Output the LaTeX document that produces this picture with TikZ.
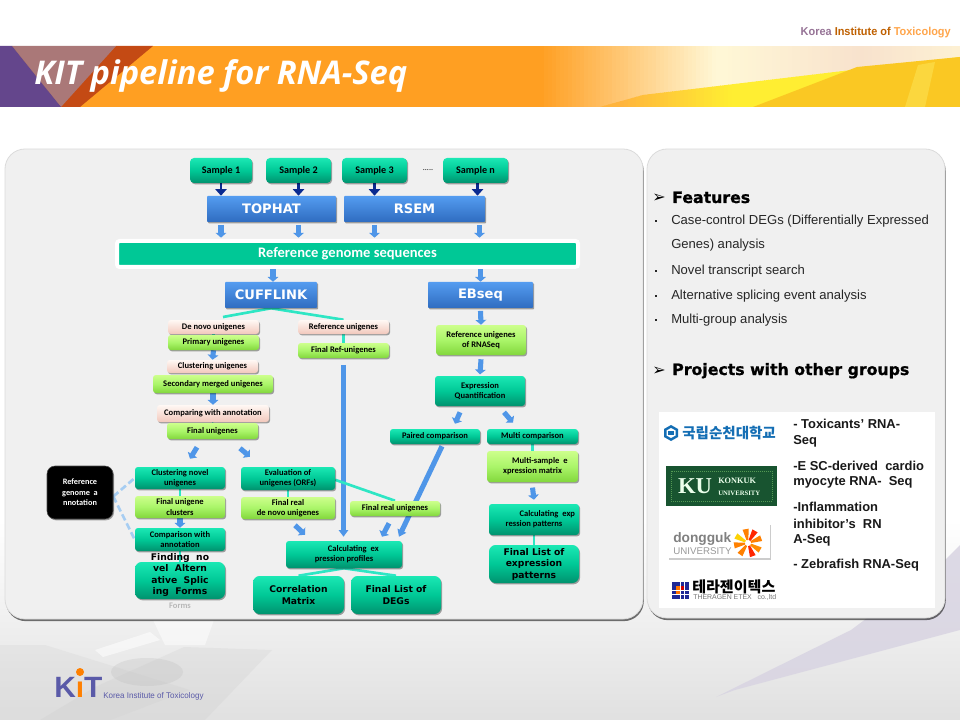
\documentclass[tikz,border=0pt]{standalone}
\usepackage{fontspec}
\setmainfont{Carlito}
\newfontfamily\djvb{DejaVu Sans}[BoldFont=* Bold]
\newfontfamily\djvh{DejaVu Sans Bold}[FakeBold=1]
\newfontfamily\libs{Liberation Sans}
\newfontfamily\serf{Liberation Serif}
\newfontfamily\krf{Noto Sans CJK KR}
\newfontfamily\opens{Open Sans}
\usetikzlibrary{arrows.meta,shadows,calc}
\pgfdeclarelayer{panelL}
\pgfdeclarelayer{conn}
\pgfsetlayers{panelL,conn,main}
\definecolor{tealA}{HTML}{1BE8B4}
\definecolor{tealB}{HTML}{00C896}
\definecolor{tealC}{HTML}{00926E}
\definecolor{bandT}{HTML}{00C896}
\definecolor{linkC}{HTML}{2EE6C4}
\definecolor{arrB}{HTML}{4F96E8}
\definecolor{arrD}{HTML}{0A2A90}
\definecolor{dashC}{HTML}{A6CDF2}
\definecolor{orng}{HTML}{FF9F22}
\definecolor{purp}{HTML}{5A5AA8}
\definecolor{grA}{RGB}{205,255,140}
\definecolor{grB}{RGB}{170,245,105}
\definecolor{grC}{RGB}{130,215,60}
\definecolor{pkA}{RGB}{255,248,244}
\definecolor{pkC}{RGB}{242,200,188}
\definecolor{blA}{RGB}{84,156,240}
\definecolor{blC}{RGB}{47,108,192}
\definecolor{ylA}{RGB}{255,238,50}
\definecolor{ylB}{RGB}{250,200,35}
\definecolor{ylC}{RGB}{252,226,80}
\definecolor{ylO}{RGB}{255,180,60}
\definecolor{crm}{RGB}{255,247,214}
\definecolor{pnk}{RGB}{248,226,205}
\definecolor{hdR}{RGB}{196,74,20}
\definecolor{hdT}{RGB}{170,120,120}
\definecolor{hdP}{RGB}{100,70,140}
\definecolor{scnu}{RGB}{20,110,180}
\definecolor{kugr}{RGB}{24,84,48}
\definecolor{thbl}{RGB}{30,40,150}
\definecolor{lilac}{RGB}{216,212,226}
\tikzset{
  x=0.75pt,y=-0.75pt,
  softshadow/.style={drop shadow={shadow xshift=0.8pt,shadow yshift=-1pt,opacity=0.35,fill=black}},
  basebox/.style={inner sep=0pt,align=center,softshadow,rounded corners=2.2pt,font=\bfseries\fontsize{6.4}{7.6}\selectfont,text=black},
  tealbox/.style={basebox,top color=tealA,bottom color=tealC,middle color=tealB},
  greenbox/.style={basebox,top color=grA,bottom color=grC,middle color=grB},
  pinkbox/.style={basebox,top color=pkA,bottom color=pkC},
  bluebox/.style={basebox,rounded corners=0.6pt,top color=blA,bottom color=blC,text=white,font=\djvb\bfseries\fontsize{9.8}{11}\selectfont},
  samplebox/.style={tealbox,rounded corners=3pt,font=\bfseries\fontsize{7.6}{9}\selectfont},
  finalbox/.style={tealbox,rounded corners=5pt,font=\djvb\bfseries\fontsize{6.9}{8.6}\selectfont},
  bandbox/.style={basebox,rounded corners=2pt,fill=bandT,draw=white,line width=3pt,text=white,font=\bfseries\fontsize{10.9}{12}\selectfont},
  blackbox/.style={basebox,rounded corners=6pt,fill=black,text=white,draw=black!70,line width=.4pt,font=\bfseries\fontsize{6.2}{7.8}\selectfont},
  darrow/.style={draw=arrD,line width=2.2pt,-{Triangle[width=8.5pt,length=5pt]}},
  barrow/.style={draw=arrB,line width=3.8pt,-{Triangle[width=8pt,length=3.6pt]}},
  longarrow/.style={draw=arrB,line width=3.8pt,-{Triangle[width=7pt,length=5pt]}},
  clink/.style={draw=linkC,line width=2pt},
  dashlink/.style={draw=dashC,line width=2pt,dash pattern=on 5pt off 2.5pt},
  panelbox/.style={fill=black!6,draw=black!14,line width=.6pt,rounded corners=15pt,drop shadow={shadow xshift=0.6pt,shadow yshift=-1.6pt,opacity=0.55,fill=black}},
  bodytext/.style={inner sep=0pt,anchor=base west,text=black!85,font=\libs\fontsize{9.8}{11}\selectfont},
  headtext/.style={inner sep=0pt,anchor=base west,text=black,font=\djvh\fontsize{11.8}{13}\selectfont},
  markhead/.style={inner sep=0pt,anchor=base west,text=black,font=\djvb\fontsize{12}{13}\selectfont},
  bulletdot/.style={inner sep=0pt,minimum size=2pt,fill=black!85,rectangle},
  tabletext/.style={inner sep=0pt,anchor=west,text=black!90,font=\libs\bfseries\fontsize{9.7}{11}\selectfont},
}
\newcommand{\bx}[7]{%
  \pgfmathsetmacro\bxw{(#4-#2)*0.75}\pgfmathsetmacro\bxh{(#5-#3)*0.75}%
  \node[#6,minimum width=\bxw pt,minimum height=\bxh pt] (#1) at ({(#2+#4)/2},{(#3+#5)/2}) {#7};}
\begin{document}
\begin{tikzpicture}
\useasboundingbox (0,0) rectangle (960,720);
% ---------- slide background
\begin{pgfonlayer}{panelL}
\fill[white] (0,0) rectangle (960,720);
\shade[top color=white,bottom color=black!12] (0,520) rectangle (960,720);
\fill[black!17,opacity=.3] (0,645) -- (45,645) -- (190,690) -- (110,720) -- (0,720) -- cycle;
\fill[black!22,opacity=.22] (184,647) -- (272,650) -- (205,720) -- (40,720) -- (95,687) -- cycle;
\fill[black!25,opacity=.3] (147,672) ellipse (36 and 14);
\fill[white,opacity=.5] (153,620) -- (214,620) -- (205,645) -- (165,645) -- cycle;
\fill[white,opacity=.55] (95,650) -- (150,632) -- (160,640) -- (103,657) -- cycle;
\fill[lilac,opacity=.85] (716,697) -- (851,630) -- (945,560) -- (960,545) -- (960,630) -- (735,690) -- cycle;
% ---------- header band
\fill[orng] (0,46) rectangle (541,107);
\foreach \sx in {540,544,...,716} {
  \pgfmathtruncatemacro\pc{100-min(100,max(0,(\sx-540)/1.75))}
  \fill[orng!\pc!crm] (\sx,46) rectangle (\sx+5,107);
}
\foreach \sx in {720,724,...,956} {
  \pgfmathtruncatemacro\pc{100-min(100,abs(\sx-860)/1.4)}
  \fill[pnk!\pc!crm] (\sx,46) rectangle (\sx+5,107);
}
\begin{scope}
\clip (600,107) -- (643,95) -- (960,57) -- (960,107) -- cycle;
\foreach \sx in {600,604,...,956} {
  \pgfmathtruncatemacro\pc{100-min(100,max(0,(\sx-620)/1.1))}
  \fill[ylO!\pc!ylA] (\sx,46) rectangle (\sx+5,107);
}
\end{scope}
\fill[ylB] (753,107) -- (857,67) -- (960,57) -- (960,107) -- cycle;
\fill[ylC,opacity=.6] (905,107) -- (918,65) -- (935,62) -- (925,107) -- cycle;
\fill[hdR] (116,46) -- (153,46) -- (80,107) -- (55,107) -- cycle;
\fill[hdT] (12,46) -- (116,46) -- (61,107) -- cycle;
\fill[hdP] (0,46) -- (12,46) -- (61,107) -- (0,107) -- cycle;
% ---------- panels
\draw[panelbox] (5,149) rectangle (643,619);
\draw[panelbox] (647,149) rectangle (945,618);
\fill[white] (659,412) rectangle (935,608);
\end{pgfonlayer}
% ---------- title and logos
\node[inner sep=0pt,anchor=base west,text=white,xscale=1.0,font=\opens\bfseries\itshape\fontsize{24.5}{28}\selectfont] (title) at (34,85) {KIT pipeline for RNA-Seq};
\node[inner sep=0pt,anchor=base east,xscale=.955,font=\libs\bfseries\fontsize{8.6}{10}\selectfont] (brand) at (951,36) {\textcolor{violet!50!black!55}{Korea} \textcolor{orange!75!black}{Institute of} \textcolor{orange!70!white}{Toxicology}};
\node[inner sep=0pt,anchor=base west,font=\libs\bfseries\fontsize{22}{24}\selectfont,xscale=1.02] (kit) at (54,697) {\textcolor{purp}{K}\textcolor{orange}{ı}\textcolor{purp}{T}};
\fill[orange] (80,672) circle (4);
\node[inner sep=0pt,anchor=base west,text=purp,font=\libs\fontsize{6.2}{8}\selectfont,xscale=.97] (kitname) at (103,698) {Korea Institute of Toxicology};
% ---------- pipeline boxes
\bx{s1}{190}{158}{252}{183}{samplebox}{Sample 1}
\bx{s2}{266}{158}{331}{183}{samplebox}{Sample 2}
\bx{s3}{342}{158}{407}{183}{samplebox}{Sample 3}
\bx{sn}{443}{158}{508}{183}{samplebox}{Sample n}
\node[inner sep=0pt,font=\fontsize{6}{7}\selectfont] (dots) at (428,170) {.....};
\bx{top}{207}{196}{336}{222}{bluebox}{TOPHAT}
\bx{rsem}{344}{196}{485}{222}{bluebox}{RSEM}
\bx{ref}{117}{241}{578}{267}{bandbox}{Reference genome sequences}
\bx{cuff}{225}{282}{317}{308}{bluebox}{CUFFLINK}
\bx{ebs}{428}{282}{533}{308}{bluebox}{EBseq}
\bx{dn}{168}{320}{259}{334}{pinkbox}{De novo unigenes}
\bx{pu}{168}{335}{259}{350}{greenbox}{Primary unigenes}
\bx{cu}{167}{360}{258}{373}{pinkbox}{Clustering unigenes}
\bx{sm}{153}{375}{273}{393}{greenbox}{Secondary merged unigenes}
\bx{ca}{157}{405}{269}{422}{pinkbox}{Comparing with annotation}
\bx{fu}{167}{423}{258}{439}{greenbox}{Final unigenes}
\bx{ru}{298}{320}{389}{334}{pinkbox}{Reference unigenes}
\bx{fr}{298}{343}{389}{358}{greenbox}{Final Ref-unigenes}
\bx{rn}{436}{325}{526}{355}{greenbox}{Reference unigenes\\of RNASeq}
\bx{eq}{435}{376}{525}{406}{tealbox}{Expression\\Quantification}
\bx{pc}{390}{429}{480}{444}{tealbox}{Paired comparison}
\bx{mc}{487}{429}{578}{444}{tealbox}{Multi comparison}
\bx{ms}{487}{451}{578}{482}{greenbox}{\hspace*{11pt}Multi-sample\ \ e\\xpression matrix}
\bx{ce}{489}{504}{579}{535}{tealbox}{\hspace*{20pt}Calculating\ \ exp\\ression patterns}
\bx{fe}{489}{545}{579}{583}{finalbox}{Final List of\\expression\\patterns}
\bx{rg}{47}{466}{113}{519}{blackbox}{Reference\\genome\ \ a\\nnotation}
\bx{cn}{135}{467}{225}{489}{tealbox}{Clustering novel\\unigenes}
\bx{uc}{135}{496}{225}{518}{greenbox}{Final unigene\\clusters}
\bx{cw}{135}{528}{225}{551}{tealbox}{Comparison with\\annotation}
\bx{fa}{135}{562}{225}{599}{finalbox}{}
\node[inner sep=0pt,align=center,text=black,font=\djvb\bfseries\fontsize{6.9}{8.6}\selectfont] (fat) at (180,575) {Finding\ \ no\\vel\ \ Altern\\ative\ \ Splic\\ing\ \ Forms};
\node[inner sep=0pt,text=black!28,font=\bfseries\fontsize{6.4}{8}\selectfont] (fag) at (180,606) {Forms};
\bx{ev}{241}{467}{335}{490}{tealbox}{Evaluation of\\unigenes (ORFs)}
\bx{fd}{241}{497}{335}{519}{greenbox}{Final real\\de novo unigenes}
\bx{fg}{350}{501}{440}{516}{greenbox}{Final real unigenes}
\bx{cp}{286}{541}{402}{568}{tealbox}{\hspace*{14pt}Calculating\ \ ex\\pression profiles}
\bx{cm}{253}{576}{344}{614}{finalbox}{Correlation\\Matrix}
\bx{fl}{351}{576}{441}{614}{finalbox}{Final List of\\DEGs}
% ---------- connectors
\coordinate (cl) at (223,317);
\begin{pgfonlayer}{conn}
\draw[darrow] (s1.south) -- (s1.south |- top.north);
\draw[darrow] (s2.south) -- (s2.south |- top.north);
\draw[darrow] (s3.south) -- (s3.south |- rsem.north);
\draw[darrow] ([xshift=1.5pt]sn.south) -- ([xshift=1.5pt]sn.south |- rsem.north);
\draw[barrow] ([yshift=-2pt]s1.south |- top.south) -- ([yshift=1pt]s1.south |- ref.north);
\draw[barrow] ([yshift=-2pt]s2.south |- top.south) -- ([yshift=1pt]s2.south |- ref.north);
\draw[barrow] ([yshift=-2pt]s3.south |- rsem.south) -- ([yshift=1pt]s3.south |- ref.north);
\draw[barrow] ([xshift=3pt,yshift=-2pt]sn.south |- rsem.south) -- ([xshift=3pt,yshift=1pt]sn.south |- ref.north);
\draw[barrow] ([xshift=1.5pt]cuff.north |- ref.south) -- ([xshift=1.5pt]cuff.north);
\draw[barrow] (ebs.north |- ref.south) -- (ebs.north);
\draw[barrow] ([yshift=-2pt]ebs.south) -- (rn.north);
\draw[barrow] ([yshift=-3pt]rn.south) -- ([yshift=1pt]eq.north);
\draw[clink] (cuff.south) -- (cl);
\draw[clink] (cuff.south) -- (ru.north);
\draw[clink] (dn.south) -- (pu.north);
\draw[barrow] (pu.south) -- (cu.north);
\draw[barrow] (sm.south) -- (ca.north);
\draw[clink] (ca.south) -- (fu.north);
\draw[clink] (ru.south) -- (fr.north);
\draw[longarrow] ([yshift=-5pt]fr.south) -- ([yshift=3pt]fr.south |- cp.north);
\draw[barrow] ([shift={(-15.5,8)}]fu.south) -- ([shift={(10,-8)}]cn.north);
\draw[barrow] ([shift={(27.5,9)}]fu.south) -- ([shift={(-38,-10)}]ev.north);
\draw[clink] (cn.south) -- (uc.north);
\draw[barrow] (uc.south) -- (cw.north);
\draw[clink] (cw.south) -- (fa.north);
\draw[clink] (ev.south) -- (fd.north);
\draw[barrow] ([shift={(7,6)}]fd.south) -- ([shift={(-39,-6)}]cp.north);
\draw[clink] ([yshift=-1pt]ev.east) -- (fg.north);
\draw[clink] (cp.south) -- (cm.north);
\draw[clink] (cp.south) -- (fl.north);
\draw[dashlink] ([yshift=-3pt]rg.east) -- (cn.west);
\draw[dashlink] ([yshift=-3pt]rg.east) -- (cw.west);
\draw[barrow] ([shift={(-20,6)}]eq.south) -- ([shift={(20,-5)}]pc.north);
\draw[barrow] ([shift={(24,6)}]eq.south) -- ([shift={(-19.5,-6)}]mc.north);
\draw[longarrow] ([shift={(7,2)}]pc.south) -- ([shift={(55,-4)}]cp.north);
\draw[barrow] ([shift={(-6,7)}]fg.south) -- ([shift={(38,-4)}]cp.north);
\draw[clink] (mc.south) -- (ms.north);
\draw[barrow] ([yshift=-4pt]ms.south) -- ([yshift=3pt]ce.north);
\draw[clink] (ce.south) -- (fe.north);
\end{pgfonlayer}
% ---------- right panel
\node[markhead] (ha) at (652,203) {➢};
\node[headtext] (hb) at (672,203) {Features};
\node[bulletdot] (b1) at (656,221) {};
\node[bodytext] (t1) at (671,225) {Case-control DEGs (Differentially Expressed};
\node[bodytext] (t2) at (671,249) {Genes) analysis};
\node[bulletdot] (b2) at (656,271) {};
\node[bodytext] (t3) at (671,275) {Novel transcript search};
\node[bulletdot] (b3) at (656,296) {};
\node[bodytext] (t4) at (671,300) {Alternative splicing event analysis};
\node[bulletdot] (b4) at (656,320) {};
\node[bodytext] (t5) at (671,324) {Multi-group analysis};
\node[markhead] (hc) at (652,375) {➢};
\node[headtext] (hd) at (672,375) {Projects with other groups};
\node[tabletext] (p1) at (793,424) {- Toxicants’ RNA-};
\node[tabletext] (p2) at (793,441) {Seq};
\node[tabletext] (p3) at (793,466) {-E SC-derived\ \ cardio};
\node[tabletext] (p4) at (793,482) {myocyte RNA-\ \ Seq};
\node[tabletext] (p5) at (793,507) {-Inflammation};
\node[tabletext] (p6) at (793,524) {inhibitor’s\ \ RN};
\node[tabletext] (p7) at (793,540) {A-Seq};
\node[tabletext] (p8) at (793,565) {- Zebrafish RNA-Seq};
% logos
\fill[scnu] (671,425) -- (678,429) -- (678,437) -- (671,441) -- (664,437) -- (664,429) -- cycle;
\fill[white] (671,428) -- (675.5,430.5) -- (675.5,435.5) -- (671,438) -- (666.5,435.5) -- (666.5,430.5) -- cycle;
\fill[scnu] (668,431) rectangle (674,435);
\node[inner sep=0pt,anchor=west,text=scnu,font=\krf\bfseries\fontsize{10.9}{12}\selectfont] (lg1) at (682,433) {국립순천대학교};
\fill[kugr] (666,466) rectangle (777,506);
\draw[white!55!green!60!black,line width=.5pt,densely dotted] (671,471) rectangle (772,501);
\node[inner sep=0pt,text=white!92!green,font=\serf\bfseries\fontsize{17}{18}\selectfont] (lg2a) at (695,486) {KU};
\node[inner sep=0pt,anchor=base west,text=white!92!green,font=\serf\bfseries\fontsize{6.2}{7.6}\selectfont] (lg2b) at (718,483) {KONKUK};
\node[inner sep=0pt,anchor=base west,text=white!92!green,font=\serf\bfseries\fontsize{5}{6}\selectfont] (lg2c) at (718,495) {UNIVERSITY};
\fill[white,drop shadow={shadow xshift=1pt,shadow yshift=-1.5pt,opacity=.4}] (668,523) rectangle (770,558);
\node[inner sep=0pt,anchor=base west,text=black!50,font=\libs\bfseries\fontsize{10.3}{13}\selectfont] (lg3a) at (673,542) {dongguk};
\node[inner sep=0pt,anchor=base west,text=black!40,font=\libs\fontsize{7.3}{10}\selectfont] (lg3b) at (673,554) {UNIVERSITY};
\foreach \aa/\cc in {100/orange,60/red!70!orange,20/orange,-30/orange!90!yellow,-70/red!70!orange,190/orange,150/yellow!70!orange,235/orange} {
  \fill[\cc,rotate around={\aa:(748,543)}] ($(748,543)+(3,-1)$) -- ($(748,543)+(14,-3)$) -- ($(748,543)+(14,3)$) -- ($(748,543)+(3,1)$) -- cycle;
}
\foreach \i in {0,1,2,3} \foreach \j in {0,1,2,3}
  \fill[thbl] ({672+\i*4.4},{582+\j*4.4}) rectangle +(3.5,3.5);
\fill[orange!90!red] (676.4,586.4) rectangle +(3.5,3.5);
\fill[red!80!black] (680.8,586.4) rectangle +(3.5,3.5);
\fill[orange!90!red] (676.4,590.8) rectangle +(3.5,3.5);
\node[inner sep=0pt,anchor=west,text=black,font=\krf\bfseries\fontsize{11.3}{12}\selectfont] (lg4a) at (692,587) {테라젠이텍스};
\node[inner sep=0pt,anchor=west,text=black!55,font=\libs\fontsize{5.2}{6}\selectfont] (lg4b) at (693,597) {THERAGEN ETEX \ \ co.,ltd};
\end{tikzpicture}
\end{document}
